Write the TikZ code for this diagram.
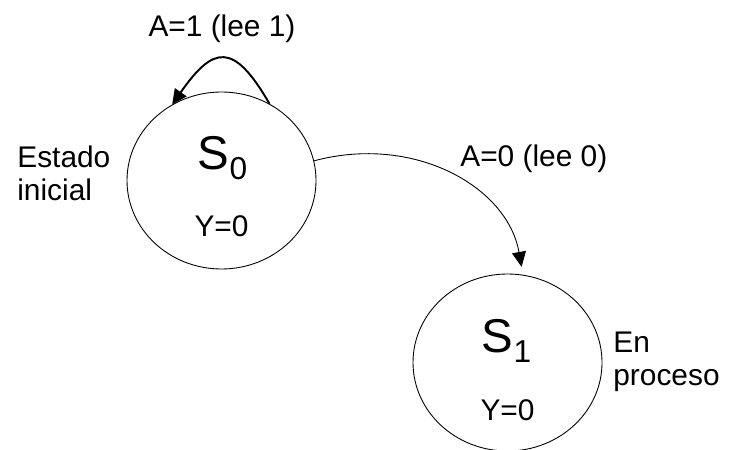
\documentclass[tikz,border=0pt]{standalone}
\usepackage{fontspec}
\setmainfont{Liberation Sans}
\usetikzlibrary{arrows.meta, shapes.geometric}

\newcommand{\subfont}{\fontsize{18}{20}\selectfont}

\begin{document}
\begin{tikzpicture}[x=0.2mm, y=-0.2mm, >={Triangle[length=3mm, width=2.8mm]}]
% --- Global Styles ---
\tikzstyle{statecircle} = [draw, ellipse, line width=0.5pt, minimum width=37.8mm, minimum height=35.4mm, inner sep=0pt]
\tikzstyle{statetext} = [font=\fontsize{27}{30}\selectfont, anchor=base, inner sep=0pt]
\tikzstyle{outtext} = [font=\fontsize{17}{19}\selectfont, anchor=base, inner sep=0pt]
\tikzstyle{lbl} = [font=\fontsize{17}{18.5}\selectfont, inner sep=0pt, align=left]
\tikzstyle{loopline} = [->, line width=1.1pt]
\tikzstyle{transition} = [->, line width=0.5pt, shorten >=1.6mm]

% --- Page Frame (pixel grid) ---
\useasboundingbox (0,0) rectangle (742,450);

% --- State Centres ---
\def\xa{221.5}  % S_0 centre x
\def\ya{180.5}  % S_0 centre y
\def\xb{507.5}  % S_1 centre x
\def\yb{362.5}  % S_1 centre y

% ==========================================
% STATE S_0: initial state
% ==========================================
\node[statecircle] (s0) at (\xa, \ya) {};
\node[statetext] (s0name) at (\xa+1, \ya-10.5) {S\raisebox{-2mm}{\subfont 0}};
\node[outtext] (s0out) at (\xa, \ya+56.5) {Y=0};
\node[lbl, anchor=north west] (s0note) at (17, 146) {Estado\\inicial};

% ==========================================
% STATE S_1: in process
% ==========================================
\node[statecircle] (s1) at (\xb, \yb) {};
\node[statetext] (s1name) at (\xb-1, \yb-10.5) {S\raisebox{-2mm}{\subfont 1}};
\node[outtext] (s1out) at (\xb, \yb+57.5) {Y=0};
\node[lbl, anchor=north west] (s1note) at (613, 332) {En\\proceso};

% ==========================================
% TRANSITIONS
% ==========================================
% Self loop on S_0
\draw[loopline] (s0.58) to[out=120, in=55, out distance=14.4mm, in distance=14.4mm] (s0.123);
\node[outtext] (loopname) at (222, 37) {A=1 (lee 1)};

% S_0 to S_1
\draw[transition] (s0.12) to[out=15, in=100, out distance=20.7mm, in distance=17.9mm] (s1.80);
\node[outtext, anchor=base west] (movename) at (460, 167) {A=0 (lee 0)};

\end{tikzpicture}
\end{document}
